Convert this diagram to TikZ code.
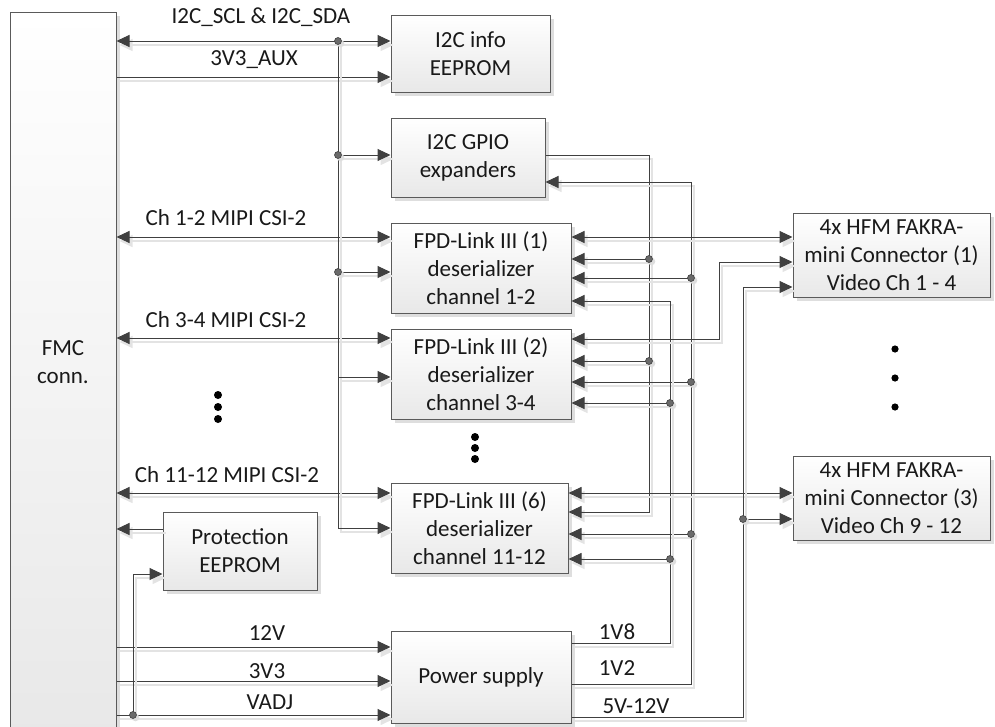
\documentclass[tikz,border=0pt]{standalone}
\usepackage{fontspec}
\setmainfont{Carlito}
\usetikzlibrary{arrows.meta,shadows}
\definecolor{wire}{HTML}{404040}
\definecolor{boxline}{HTML}{5A5A5A}
\definecolor{dotgray}{HTML}{6A6A6A}
\begin{document}
\begin{tikzpicture}[x=1pt,y=-1pt,
  txt/.style={font=\fontsize{23}{28}\selectfont, text=black!90, inner sep=0pt, align=center},
  box/.style={txt, draw=boxline, line width=1pt, top color=white, bottom color=black!9,
    drop shadow={shadow xshift=4pt, shadow yshift=-4pt, fill=black!13, opacity=1}},
  conn/.style={draw=wire, line width=1pt,
    preaction={draw=black!11, line width=1.5pt, transform canvas={shift={(3pt,-4pt)}}}},
  arr/.style={conn, -{Triangle[length=13pt,width=12pt]}},
  dbl/.style={conn, {Triangle[length=13pt,width=12pt]}-{Triangle[length=13pt,width=12pt]}},
  jdot/.style={fill=dotgray, draw=wire, line width=0.6pt},
  jshadow/.style={fill=black!13},
  edot/.style={fill=black}
]
\useasboundingbox (0,0) rectangle (995,726);

% boxes
\node[box, minimum width=106pt, minimum height=726pt] (fmc) at (63,375) {};
\node[txt] (fmctext) at (63,362) {FMC\\conn.};
\node[box, minimum width=159pt, minimum height=77pt] (i2cinfo) at (470.5,53.5) {I2C info\\EEPROM};
\node[box, minimum width=154pt, minimum height=79pt] (gpio) at (468,157.5) {I2C GPIO\\expanders};
\node[box, minimum width=180pt, minimum height=90pt] (fpd1) at (481,268) {FPD-Link III (1)\\deserializer\\channel 1-2};
\node[box, minimum width=180pt, minimum height=90pt] (fpd2) at (481,374) {FPD-Link III (2)\\deserializer\\channel 3-4};
\node[box, minimum width=177pt, minimum height=90pt] (fpd6) at (479.5,528) {FPD-Link III (6)\\deserializer\\channel 11-12};
\node[box, minimum width=180pt, minimum height=92pt] (power) at (481,677) {Power supply};
\node[box, minimum width=154pt, minimum height=78pt] (prot) at (240,551) {Protection\\EEPROM};
\node[box, minimum width=197pt, minimum height=84pt] (hfm1) at (891.5,255) {4x HFM FAKRA-\\mini Connector (1)\\Video Ch 1 - 4};
\node[box, minimum width=197pt, minimum height=84pt] (hfm3) at (891.5,498) {4x HFM FAKRA-\\mini Connector (3)\\Video Ch 9 - 12};

% junction coordinates
\coordinate (b0) at (338,41);
\coordinate (b1) at (338,155);
\coordinate (b2) at (338,272);
\coordinate (b3) at (338,377);
\coordinate (g1) at (649,259);
\coordinate (g2) at (649,361);
\coordinate (p1) at (691,278);
\coordinate (p2) at (691,382);
\coordinate (p3) at (691,534);
\coordinate (q1) at (670,403);
\coordinate (q2) at (670,559);
\coordinate (v1) at (743,519);
\coordinate (a1) at (133,715);

% FMC side connections
\draw[dbl] (fmc.east |- 0,41) -- (i2cinfo.west |- 0,41);
\draw[arr] (fmc.east |- 0,77) -- (i2cinfo.west |- 0,77);
\draw[dbl] (fmc.east |- 0,237) -- (fpd1.west |- 0,237);
\draw[dbl] (fmc.east |- 0,338) -- (fpd2.west |- 0,338);
\draw[dbl] (fmc.east |- 0,493) -- (fpd6.west |- 0,493);
\draw[arr] (prot.west |- 0,529) -- (fmc.east |- 0,529);
\draw[arr] (fmc.east |- 0,647) -- (power.west |- 0,647);
\draw[arr] (fmc.east |- 0,681) -- (power.west |- 0,681);
\draw[arr] (fmc.east |- 0,715) -- (power.west |- 0,715);
\draw[arr] (a1) |- (prot.west |- 0,574);

% I2C bus
\draw[arr] (b0) |- (fpd6.west |- 0,528);
\draw[arr] (b1) -- (gpio.west |- b1);
\draw[arr] (b2) -- (fpd1.west |- b2);
\draw[arr] (b3) -- (fpd2.west |- b3);

% GPIO outputs
\draw[arr] (gpio.east |- 0,155) -| (649,512) -- (fpd6.east |- 0,512);
\draw[arr] (g1) -- (fpd1.east |- g1);
\draw[arr] (g2) -- (fpd2.east |- g2);

% 1V2
\draw[arr] (power.east |- 0,684) -| (691,182) -- (gpio.east |- 0,182);
\draw[arr] (p1) -- (fpd1.east |- p1);
\draw[arr] (p2) -- (fpd2.east |- p2);
\draw[arr] (p3) -- (fpd6.east |- p3);

% 1V8
\draw[arr] (power.east |- 0,643) -| (670,301) -- (fpd1.east |- 0,301);
\draw[arr] (q1) -- (fpd2.east |- q1);
\draw[arr] (q2) -- (fpd6.east |- q2);

% video links
\draw[dbl] (fpd1.east |- 0,237) -- (hfm1.west |- 0,237);
\draw[dbl] (fpd2.east |- 0,339) -| (719,262) -- (hfm1.west |- 0,262);
\draw[dbl] (fpd6.east |- 0,493) -- (hfm3.west |- 0,493);

% 5V-12V
\draw[arr] (power.east |- 0,717) -| (743,287) -- (hfm1.west |- 0,287);
\draw[arr] (v1) -- (hfm3.west |- v1);

% junction dots
\foreach \c in {b0,b1,b2,g1,g2,p1,p2,p3,q1,q2,v1,a1}{
  \fill[jshadow] ([shift={(2.5,2.5)}]\c) circle (3.8);
  \fill[jdot] (\c) circle (3.5);}

% ellipsis dots
\foreach \yy in {395,407,419} \fill[edot] (218,\yy) circle (4);
\foreach \yy in {437,448,459} \fill[edot] (475,\yy) circle (4);
\foreach \yy in {349,378,407} \fill[edot] (895,\yy) circle (3.6);

% labels
\node[txt] (l1) at (261,17) {I2C\_SCL \& I2C\_SDA};
\node[txt] (l2) at (254,60) {3V3\_AUX};
\node[txt] (l3) at (226,218) {Ch 1-2 MIPI CSI-2};
\node[txt] (l4) at (226,320) {Ch 3-4 MIPI CSI-2};
\node[txt] (l5) at (227,475) {Ch 11-12 MIPI CSI-2};
\node[txt] (l6) at (267,633) {12V};
\node[txt] (l7) at (267,671) {3V3};
\node[txt] (l8) at (270,702) {VADJ};
\node[txt] (l9) at (617,632) {1V8};
\node[txt] (l10) at (617,668) {1V2};
\node[txt] (l11) at (636,706) {5V-12V};
\end{tikzpicture}
\end{document}
